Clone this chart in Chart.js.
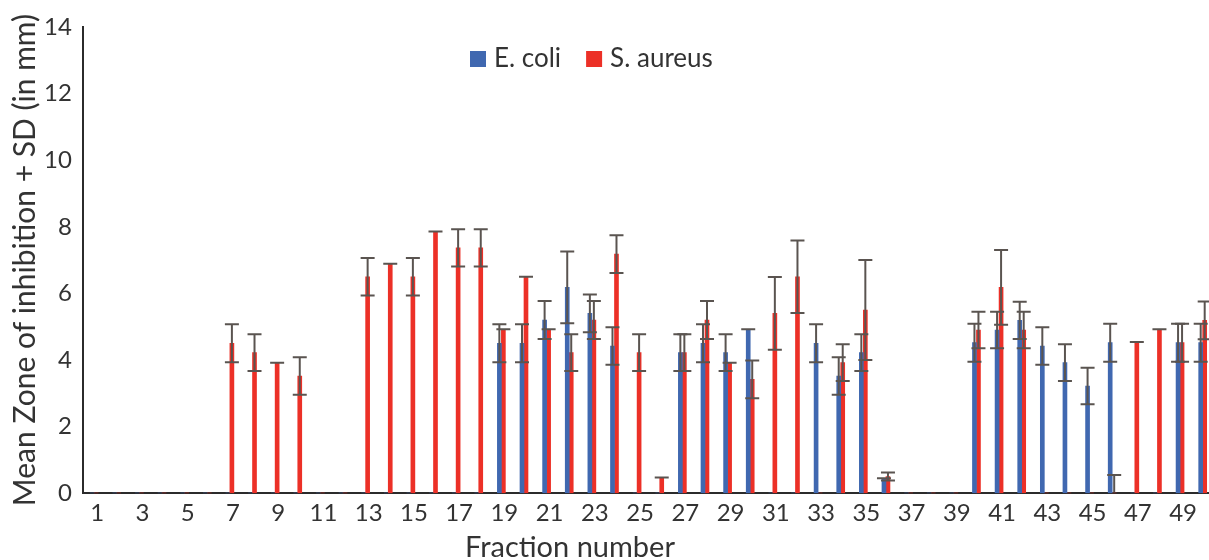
<!DOCTYPE html>
<html><head><meta charset="utf-8">
<script src="https://cdn.jsdelivr.net/npm/chart.js@4.4.1/dist/chart.umd.min.js"></script>
<style>
html,body{margin:0;padding:0;overflow:hidden;background:#fff;}
#wrap{position:relative;width:1216px;height:560px;}
</style></head><body>
<div id="wrap"><canvas id="c" width="1216" height="560"></canvas></div>
<script>
const fractions = ['1','2','3','4','5','6','7','8','9','10','11','12','13','14','15','16','17','18','19','20','21','22','23','24','25','26','27','28','29','30','31','32','33','34','35','36','37','38','39','40','41','42','43','44','45','46','47','48','49','50'];

const ecoliMean = [0,0,0,0,0,0,0,0,0,0, 0,0,0,0,0,0,0,0,4.50,4.50, 5.20,6.18,5.40,4.42,0,0,4.22,4.50,4.22,4.92, 0,0,4.50,3.52,4.22,0.45,0,0,0,4.52, 4.90,5.19,4.42,3.92,3.22,4.52,0,0,4.52,4.52];
const ecoliSD   = [0,0,0,0,0,0,0,0,0,0, 0,0,0,0,0,0,0,0,0.57,0.57, 0.57,1.08,0.57,0.565,0,0,0.55,0.57,0.55,0, 0,0,0.57,0.56,0.55,0,0,0,0,0.57, 0.55,0.56,0.565,0.55,0.55,0.57,0,0,0.57,0.57];

const saureusMean = [0,0,0,0,0,0,4.50,4.22,3.92,3.52, 0,0,6.50,6.89,6.50,7.86,7.37,7.37,4.92,6.50, 4.92,4.22,5.20,7.18,4.22,0.47,4.22,5.20,3.92,3.42, 5.40,6.50,0,3.92,5.50,0.50,0,0,0,4.90, 6.18,4.90,0,0,0,0,4.54,4.92,4.52,5.19];
const saureusSD   = [0,0,0,0,0,0,0.57,0.55,0,0.56, 0,0,0.565,0,0.565,0,0.56,0.56,0,0, 0,0.55,0.57,0.565,0.55,0,0.55,0.57,0,0.565, 1.09,1.09,0,0.55,1.5,0.12,0,0,0,0.55, 1.12,0.55,0,0,0,0.55,0,0,0.57,0.57];

const yTickValues = [0,2,4,6,8,10,12,14];
const seriesNames = ['E. coli','S. aureus'];
const yTitle = 'Mean Zone of inhibition + SD (in mm)';
const xTitle = 'Fraction number';

const FONT = 'Lato';
const TEXT = '#333333';

const errorBars = {
  id: 'errorBars',
  afterDatasetsDraw(chart) {
    const ctx = chart.ctx, ys = chart.scales.y, a = chart.chartArea;
    ctx.save();
    ctx.beginPath();
    ctx.rect(a.left, 0, a.right - a.left, a.bottom - 1);
    ctx.clip();
    ctx.strokeStyle = '#5a5450';
    ctx.lineWidth = 2;
    chart.data.datasets.forEach((ds, i) => {
      const meta = chart.getDatasetMeta(i);
      meta.data.forEach((bar, j) => {
        const m = ds.data[j], s = ds.sd[j];
        if (!m && !s) return;
        const x = bar.x;
        const yt = ys.getPixelForValue(m + s), yb = ys.getPixelForValue(m - s);
        ctx.beginPath();
        ctx.moveTo(x, yt); ctx.lineTo(x, yb);
        ctx.moveTo(x - 7, yt); ctx.lineTo(x + 7, yt);
        ctx.moveTo(x - 7, yb); ctx.lineTo(x + 7, yb);
        ctx.stroke();
      });
    });
    ctx.restore();
  }
};

const overlay = {
  id: 'overlay',
  afterDraw(chart) {
    const ctx = chart.ctx;
    ctx.save();
    ctx.textBaseline = 'alphabetic';
    ctx.textAlign = 'left';
    ctx.font = '26px ' + FONT;
    let x = 470;
    chart.data.datasets.forEach(ds => {
      ctx.fillStyle = ds.backgroundColor;
      ctx.fillRect(x, 51, 16, 16);
      x += 16 + 8;
      ctx.fillStyle = TEXT;
      ctx.fillText(ds.label, x, 67);
      x += ctx.measureText(ds.label).width + 25;
    });
    ctx.font = '29px ' + FONT;
    ctx.textAlign = 'center';
    ctx.fillStyle = TEXT;
    ctx.fillText(xTitle, 570, 557);
    ctx.restore();
  }
};

new Chart(document.getElementById('c'), {
  type: 'bar',
  data: {
    labels: fractions,
    datasets: [
      { label: seriesNames[0], data: ecoliMean, sd: ecoliSD, backgroundColor: '#4068b0', barThickness: 4 },
      { label: seriesNames[1], data: saureusMean, sd: saureusSD, backgroundColor: '#ec3027', barThickness: 4 }
    ]
  },
  options: {
    responsive: false,
    animation: false,
    layout: { padding: { left: 1, right: 2, top: 27, bottom: 26 } },
    plugins: { legend: { display: false }, tooltip: { enabled: false } },
    scales: {
      x: {
        grid: { display: false, drawTicks: false },
        border: { color: '#2b2b2b', width: 2 },
        ticks: {
          autoSkip: false, maxRotation: 0, padding: 6, labelOffset: 3,
          color: TEXT, font: { family: FONT, size: 24 },
          callback: (v, i) => (i % 2 === 0 ? fractions[i] : '')
        }
      },
      y: {
        min: 0, max: 14,
        afterBuildTicks: axis => { axis.ticks = yTickValues.map(v => ({ value: v })); },
        grid: { display: false, drawTicks: false },
        border: { color: '#2b2b2b', width: 2 },
        ticks: { padding: 11, color: TEXT, font: { family: FONT, size: 24 } },
        title: { display: true, text: yTitle, color: TEXT, font: { family: FONT, size: 30 }, padding: { top: 6, bottom: -10 } }
      }
    }
  },
  plugins: [errorBars, overlay]
});
</script>
</body></html>
